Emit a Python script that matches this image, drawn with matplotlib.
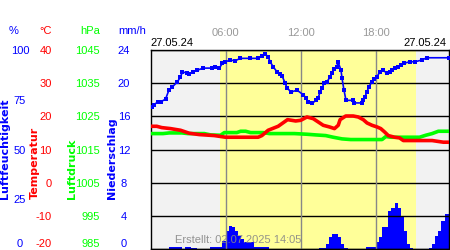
import matplotlib
matplotlib.use('Agg')
import matplotlib.pyplot as plt

plt.rcParams['font.family'] = ['Liberation Sans', 'DejaVu Sans']
plt.rcParams['axes.unicode_minus'] = False

# Luftfeuchtigkeit (%), Stunde des Tages
hum_h = [0.08, 0.24, 0.56, 0.8, 1.2, 1.47, 1.75, 2.15, 2.39, 2.55, 2.95, 3.1, 3.43, 3.75,
         4.22, 4.94, 5.18, 5.5, 5.74, 5.98, 6.37, 6.77, 7.17, 7.97, 8.6, 8.92, 9.16, 9.4,
         9.56, 9.8, 10.12, 10.36, 10.52, 10.76, 10.92, 11.24, 11.71, 12.19, 12.43, 12.59,
         12.91, 13.23, 13.39, 13.55, 13.71, 13.86, 14.1, 14.34, 14.5, 14.66, 14.9, 14.98,
         15.22, 15.3, 15.46, 15.62, 16.18, 16.25, 16.89, 16.97, 17.13, 17.29, 17.45, 17.69,
         17.85, 18.09, 18.33, 18.57, 18.88, 19.12, 19.28, 19.52, 19.76, 20.0, 20.24, 20.72,
         21.12, 21.67, 22.07, 23.82]
hum_v = [71.2, 72.2, 73.9, 73.9, 75.3, 79.8, 81.5, 84.0, 86.4, 88.9, 88.5, 87.9, 89.0, 89.9,
         90.9, 90.9, 91.6, 90.9, 93.3, 94.1, 94.9, 94.6, 95.8, 95.8, 95.8, 97.0, 98.0, 96.5,
         94.1, 91.6, 88.9, 87.9, 86.9, 83.3, 80.8, 78.9, 79.8, 77.6, 75.9, 73.9,
         73.2, 74.7, 75.8, 78.9, 80.8, 83.3, 84.0, 86.4, 88.4, 90.4, 91.6, 94.1,
         89.9, 85.9, 79.8, 74.7, 74.7, 73.4, 73.4, 74.7, 76.4, 78.9, 81.5, 84.0,
         85.4, 86.5, 89.0, 89.9, 88.4, 89.0, 89.9, 90.9, 91.6, 92.4, 93.3, 94.1,
         94.1, 94.9, 96.1, 96.1]

# Temperatur (°C)
temp_h = [0.0, 0.5, 0.9, 1.6, 2.4, 3.1, 3.9, 5.1, 6.0, 7.5, 8.6, 8.9, 9.4, 10.2, 10.95,
          11.6, 12.0, 12.5, 13.0, 13.4, 13.8, 14.3, 14.7, 15.0, 15.15, 15.6, 16.2, 16.6,
          17.0, 17.3, 17.7, 18.1, 18.4, 18.7, 19.0, 19.5, 19.9, 20.2, 22.5, 23.4, 23.85]
temp_v = [17.0, 17.0, 16.6, 16.3, 15.8, 14.9, 14.5, 14.2, 13.7, 13.7, 13.7, 14.2, 15.8, 17.0, 19.0,
          18.6, 18.8, 19.8, 19.3, 18.3, 17.3, 16.8, 16.3, 17.3, 19.0, 20.1, 20.1, 19.8,
          19.0, 18.0, 17.3, 16.8, 16.3, 15.3, 14.2, 13.7, 13.5, 12.7, 12.7, 12.2, 12.2]

# Luftdruck (hPa)
pres_h = [0.0, 1.0, 1.5, 2.5, 3.0, 4.3, 4.8, 5.6, 5.9, 6.9, 7.2, 7.6, 8.0, 9.0, 9.5, 11.5,
          12.5, 13.2, 14.0, 14.6, 15.3, 16.0, 18.5, 18.8, 19.2, 21.5, 22.0, 22.5, 23.0, 23.85]
pres_v = [1019.8, 1019.8, 1020.0, 1020.0, 1019.8, 1019.8, 1019.4, 1019.3, 1020.1, 1020.1,
          1020.5, 1020.5, 1020.1, 1020.1, 1019.8, 1019.8, 1019.6, 1019.4, 1019.2, 1018.7,
          1018.2, 1018.0, 1018.0, 1018.9, 1018.7, 1018.7, 1019.3, 1019.8, 1020.5, 1020.5]

# Niederschlag (mm/h), Viertelstunden
rain_h = [1.5, 1.75, 2.0, 2.25, 2.75, 3.0, 3.25, 3.5, 4.75, 5.0, 5.25, 5.5, 5.75, 6.0, 6.25,
          6.5, 6.75, 7.0, 7.25, 7.5, 7.75, 8.0, 8.25, 8.5, 8.75, 9.0, 9.25,
          13.5, 13.75, 14.0, 14.25, 14.5, 14.75, 15.0, 15.25, 15.5,
          17.25, 17.5, 17.75, 18.0, 18.25, 18.5, 18.75, 19.0, 19.25, 19.5, 19.75, 20.0,
          20.25, 20.5, 20.75, 22.25, 22.5, 22.75, 23.0, 23.25, 23.5, 23.75]
rain_v = [0.3, 0.3, 0.3, 0.3, 0.3, 0.3, 0.15, 0.15, 0.3, 0.3, 0.3, 0.3, 1.0, 2.2, 2.8,
          2.7, 2.2, 1.6, 1.2, 0.8, 0.8, 0.8, 0.3, 0.3, 0.3, 0.3, 0.3,
          0.1, 0.1, 0.6, 1.4, 1.8, 1.8, 1.4, 0.6, 0.1,
          0.3, 0.3, 0.3, 0.8, 1.4, 2.6, 2.6, 4.6, 5.0, 5.6, 5.0, 3.8,
          2.2, 0.6, 0.1, 0.15, 0.6, 1.6, 2.2, 3.4, 4.2, 4.2]

sunrise, sunset = 5.58, 21.2
hours = [6, 12, 18]
hour_labels = ['06:00', '12:00', '18:00']

BLUE = '#0000ff'
RED = '#ff0000'
GREEN = '#00ff00'

fig = plt.figure(figsize=(4.5, 2.5), dpi=100)
ax = fig.add_axes([150.5 / 450, 1 / 250, 298.5 / 450, 199 / 250])
ax.set_facecolor('#f2f2f2')
ax.axvspan(sunrise, sunset, color='#ffff99', lw=0, zorder=0)
ax.bar(rain_h, rain_v, width=0.25, align='edge', color=BLUE, lw=0, zorder=1)
for h in hours:
    ax.axvline(h, color='#888888', lw=1, zorder=1.6)
ax.set_xlim(0, 23.85)
ax.set_ylim(0, 24)
ax.set_yticks(range(0, 25, 4))
ax.grid(axis='y', color='black', lw=1)
for s in ax.spines.values():
    s.set_color('black')
    s.set_linewidth(1)
ax.xaxis.tick_top()
ax.set_xticks(hours, hour_labels)
ax.tick_params(axis='x', length=0, pad=9, labelsize=8, labelcolor='#999999')
ax.tick_params(axis='y', length=0, pad=19, labelsize=8, labelcolor=BLUE)

# Zusatzachsen
ax_h = ax.twinx()
ax_h.set_ylim(0, 100)
ax_h.set_yticks([0, 25, 50, 75, 100])
ax_h.plot(hum_h, hum_v, color=BLUE, lw=1.2, marker='s', ms=3, mew=0)

ax_t = ax.twinx()
ax_t.set_ylim(-20, 40)
ax_t.set_yticks(range(-20, 41, 10))
ax_t.plot(temp_h, temp_v, color=RED, lw=2.6)

ax_p = ax.twinx()
ax_p.set_ylim(985, 1045)
ax_p.set_yticks(range(985, 1046, 10))
ax_p.plot(pres_h, pres_v, color=GREEN, lw=2.6)

ax_p.set_zorder(1)
ax_t.set_zorder(2)
ax_h.set_zorder(3)

for a, pad, col in [(ax_h, 94, BLUE), (ax_t, 71, RED), (ax_p, 36.4, GREEN)]:
    a.yaxis.tick_left()
    a.tick_params(axis='y', length=0, pad=pad, labelsize=8, labelcolor=col)
    a.set_xlim(0, 23.85)
    for s in a.spines.values():
        s.set_visible(False)

for a, ha in [(ax, 'center'), (ax_h, 'center'), (ax_t, 'right'), (ax_p, 'right')]:
    labels = a.get_yticklabels()
    for lab in labels:
        lab.set_ha(ha)
    labels[0].set_va('bottom')

# Kopfzeile
head_y = 1 - 31 / 250
for x, txt, col in [(14, '%', BLUE), (46, '°C', RED), (90, 'hPa', GREEN), (132, 'mm/h', BLUE)]:
    fig.text(x / 450, head_y, txt, color=col, fontsize=8, ha='center', va='center')

# Achsentitel
for x, txt, col in [(5, 'Luftfeuchtigkeit', BLUE), (35, 'Temperatur', RED),
                    (71.5, 'Luftdruck', GREEN), (112, 'Niederschlag', BLUE)]:
    fig.text(x / 450, 1 - 199 / 250, txt, color=col, fontsize=8, rotation=90,
             ha='center', va='bottom', family='DejaVu Sans', fontweight='bold')

ax.text(0, 1.012, '27.05.24', transform=ax.transAxes, ha='left', va='bottom', fontsize=8)
ax.text(0.993, 1.012, '27.05.24', transform=ax.transAxes, ha='right', va='bottom', fontsize=8)

fig.text(175 / 450, 1 - 240 / 250, 'Erstellt: 02.07.2025 14:05', color='#888888',
         fontsize=8, ha='left', va='center', alpha=0.9)

fig.savefig('out.png', dpi=100)
